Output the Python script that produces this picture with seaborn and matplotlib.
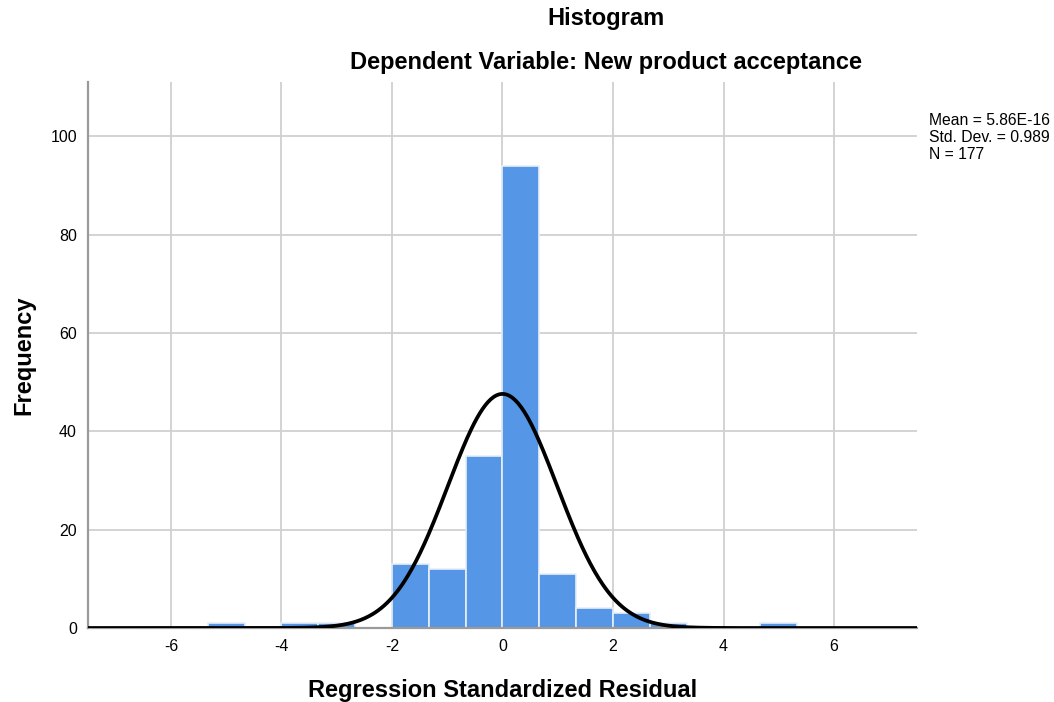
import numpy as np
import matplotlib
matplotlib.use("Agg")
import matplotlib.pyplot as plt
import seaborn as sns

# Data
bin_edges = [-16/3, -14/3, -4.0, -10/3, -8/3, -2.0, -4/3, -2/3, 0.0, 2/3, 4/3, 2.0, 8/3, 10/3, 14/3, 16/3]
bin_counts = [1, 0, 1, 1, 0, 13, 12, 35, 94, 11, 4, 3, 1, 0, 1]
mean_val = 5.86e-16
sd_val = 0.989
n_val = 177
x_ticks = [-6, -4, -2, 0, 2, 4, 6]
y_ticks = [0, 20, 40, 60, 80, 100]

sns.set_theme(style="white")
plt.rcParams['font.family'] = ['Liberation Sans', 'DejaVu Sans']

fig = plt.figure(figsize=(10.54, 7.02), dpi=100)
ax = fig.add_axes([0.0835, 0.1054, 0.7865, 0.7776])

centers = [(bin_edges[i] + bin_edges[i + 1]) / 2 for i in range(len(bin_counts))]
for t in x_ticks:
    ax.axvline(t, color="#d0d0d0", lw=1.3, zorder=0)
for t in y_ticks[1:]:
    ax.axhline(t, color="#d0d0d0", lw=1.3, zorder=0)

sns.histplot(x=centers, weights=bin_counts, bins=bin_edges, ax=ax,
             color="#5596E6", alpha=1.0, edgecolor="#e8eef8", linewidth=1.2, zorder=2)

binw = bin_edges[1] - bin_edges[0]
xs = np.linspace(-7.5, 7.5, 600)
ys = n_val * binw * np.exp(-0.5 * ((xs - mean_val) / sd_val) ** 2) / (sd_val * np.sqrt(2 * np.pi))
sns.lineplot(x=xs, y=ys, ax=ax, color="black", lw=2.7, zorder=3)

ax.set_xlim(-7.5, 7.5)
ax.set_ylim(0, 111)
ax.set_xticks(x_ticks)
ax.set_xticklabels([str(t) for t in x_ticks])
ax.set_yticks(y_ticks)
ax.tick_params(axis="both", labelsize=11.5, length=0, pad=8, colors="black")
for s in ["top", "right"]:
    ax.spines[s].set_visible(False)
ax.spines["left"].set_color("#9a9a9a")
ax.spines["left"].set_linewidth(1.6)
ax.spines["bottom"].set_color("#9a9a9a")
ax.spines["bottom"].set_linewidth(1.6)

ax.set_xlabel("Regression Standardized Residual", fontsize=17, fontweight="bold", labelpad=18, color="black")
ax.set_ylabel("Frequency", fontsize=17, fontweight="bold", labelpad=11, color="black")

fig.text(606/1054, 1 - 19/702, "Histogram", ha="center", va="center", fontsize=17, fontweight="bold", color="black")
fig.text(606/1054, 1 - 63/702, "Dependent Variable: New product acceptance", ha="center", va="center",
         fontsize=17, fontweight="bold", color="black")
fig.text(929/1054, 1 - 113/702, "Mean = 5.86E-16\nStd. Dev. = 0.989\nN = 177",
         ha="left", va="top", fontsize=11.3, linespacing=1.15, color="black")

fig.savefig("out.png", dpi=100)
